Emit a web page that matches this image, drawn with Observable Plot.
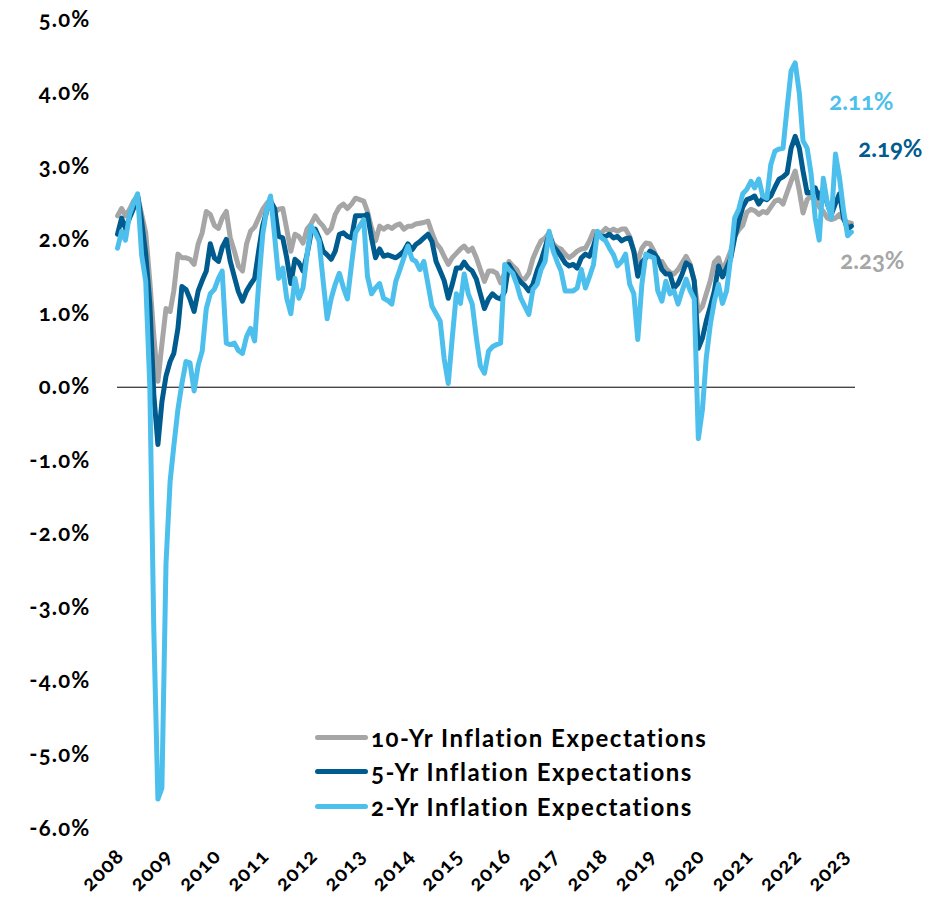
<!DOCTYPE html>
<html>
<head>
<meta charset="utf-8">
<script src="https://cdn.jsdelivr.net/npm/d3@7"></script>
<script src="https://cdn.jsdelivr.net/npm/@observablehq/plot@0.6"></script>
<style>
  body { margin: 0; background: #fff; }
  #wrap { position: relative; width: 949px; height: 908px; font-family: Lato, "Open Sans", sans-serif; font-variant-numeric: oldstyle-nums; }
  #wrap svg { position: absolute; left: 0; top: 0; }
  #wrap svg text { font-variant-numeric: oldstyle-nums; }
  #wrap svg g[aria-label="y-axis tick label"] text { letter-spacing: 1.2px; }
  #wrap svg g[aria-label="x-axis tick label"] text { letter-spacing: 1px; }
  .legend { position: absolute; left: 315px; top: 720px; }
  .row { display: flex; align-items: center; height: 34.5px; font-weight: 700; font-size: 24px; letter-spacing: 1.5px; color: #000; white-space: nowrap; }
  .sw { width: 53px; height: 5px; border-radius: 3px; margin-right: 3px; }
</style>
</head>
<body>
<div id="wrap"></div>
<script>
// Monthly series, first value = January 2008
const startYear = 2008;

const tenYr = [
  2.33, 2.43, 2.33, 2.42, 2.53, 2.6, 2.35, 2.1, 1.44, 0.7, 0.08, 0.58,
  1.07, 1.03, 1.31, 1.81, 1.76, 1.76, 1.74, 1.67, 1.95, 2.1, 2.39, 2.35,
  2.2, 2.16, 2.3, 2.39, 2.03, 1.85, 1.65, 1.58, 1.95, 2.12, 2.18, 2.3,
  2.42, 2.5, 2.55, 2.37, 2.42, 2.43, 2.15, 1.85, 2.08, 2.05, 1.96, 2.15,
  2.22, 2.33, 2.25, 2.19, 2.1, 2.16, 2.35, 2.45, 2.49, 2.43, 2.49, 2.57,
  2.55, 2.53, 2.39, 2.16, 1.99, 2.19, 2.15, 2.19, 2.16, 2.2, 2.22, 2.15,
  2.19, 2.19, 2.22, 2.23, 2.24, 2.26, 2.1, 1.96, 1.89, 1.78, 1.67, 1.76,
  1.82, 1.88, 1.92, 1.85, 1.89, 1.76, 1.6, 1.44, 1.58, 1.58, 1.55, 1.42,
  1.55, 1.71, 1.65, 1.6, 1.48, 1.47, 1.55, 1.75, 1.88, 1.99, 2.03, 2.1,
  1.95, 1.9, 1.88, 1.81, 1.76, 1.8, 1.85, 1.88, 1.89, 1.99, 2.12, 2.1,
  2.1, 2.16, 2.12, 2.15, 2.12, 2.15, 2.15, 2.05, 1.85, 1.71, 1.89, 1.96,
  1.95, 1.85, 1.71, 1.71, 1.62, 1.56, 1.54, 1.6, 1.69, 1.78, 1.67, 1.44,
  1.03, 1.1, 1.27, 1.45, 1.7, 1.76, 1.58, 1.71, 1.85, 2.05, 2.14, 2.2,
  2.38, 2.42, 2.4, 2.35, 2.39, 2.37, 2.45, 2.53, 2.55, 2.49, 2.65, 2.8,
  2.94, 2.67, 2.37, 2.55, 2.6, 2.55, 2.45, 2.39, 2.3, 2.28, 2.3, 2.35,
  2.28, 2.24, 2.23
];

const fiveYr = [
  2.08, 2.3, 2.16, 2.3, 2.43, 2.6, 2.26, 1.81, 1.13, -0.1, -0.78, -0.2,
  0.15, 0.35, 0.46, 0.8, 1.37, 1.33, 1.2, 1.03, 1.31, 1.45, 1.58, 1.95,
  1.76, 1.71, 1.9, 2.01, 1.71, 1.5, 1.3, 1.17, 1.31, 1.4, 1.48, 1.85,
  2.2, 2.4, 2.53, 2.43, 2.05, 2.03, 1.76, 1.41, 1.74, 1.69, 1.58, 1.8,
  2.1, 2.15, 2.03, 1.85, 1.8, 1.74, 1.85, 2.08, 2.1, 2.05, 2.03, 2.33,
  2.33, 2.33, 2.35, 2.03, 1.76, 1.88, 1.78, 1.8, 1.78, 1.76, 1.8, 1.85,
  1.95, 1.87, 1.94, 1.98, 2.03, 2.08, 1.98, 1.71, 1.58, 1.45, 1.21, 1.4,
  1.62, 1.62, 1.7, 1.62, 1.58, 1.47, 1.27, 1.07, 1.2, 1.27, 1.22, 1.2,
  1.3, 1.67, 1.58, 1.5, 1.43, 1.38, 1.31, 1.4, 1.58, 1.72, 1.9, 2.08,
  1.92, 1.85, 1.78, 1.69, 1.65, 1.67, 1.62, 1.76, 1.81, 1.78, 1.92, 2.1,
  2.05, 2.05, 2.08, 2.03, 2.05, 1.99, 2.02, 2.03, 1.85, 1.51, 1.7, 1.76,
  1.85, 1.82, 1.75, 1.6, 1.54, 1.54, 1.35, 1.41, 1.54, 1.69, 1.65, 1.45,
  0.53, 0.67, 0.9, 1.1, 1.31, 1.65, 1.5, 1.62, 1.75, 2.03, 2.25, 2.45,
  2.55, 2.57, 2.6, 2.49, 2.57, 2.55, 2.6, 2.72, 2.83, 2.86, 2.91, 3.25,
  3.41, 3.25, 2.94, 2.64, 2.65, 2.71, 2.57, 2.71, 2.49, 2.35, 2.5, 2.63,
  2.3, 2.15, 2.19
];

const twoYr = [
  1.89, 2.12, 2.0, 2.35, 2.5, 2.63, 1.8, 1.44, 0.0, -3.3, -5.6, -5.45,
  -2.4, -1.28, -0.8, -0.3, 0.05, 0.35, 0.33, -0.05, 0.3, 0.49, 1.07, 1.27,
  1.33, 1.48, 1.58, 0.6, 0.58, 0.6, 0.5, 0.46, 0.69, 0.8, 0.63, 1.4,
  2.08, 2.43, 2.6, 2.05, 1.48, 1.62, 1.21, 1.0, 1.48, 1.21, 1.35, 1.8,
  2.19, 2.1, 1.99, 1.44, 0.93, 1.21, 1.4, 1.55, 1.35, 1.2, 1.67, 2.1,
  2.19, 2.28, 1.51, 1.27, 1.35, 1.41, 1.21, 1.18, 1.13, 1.44, 1.6, 1.76,
  1.92, 1.74, 1.71, 1.6, 1.71, 1.4, 1.1, 1.0, 0.9, 0.39, 0.05, 0.67,
  1.27, 1.14, 1.54, 1.27, 1.13, 0.67, 0.29, 0.19, 0.49, 0.55, 0.58, 0.6,
  1.67, 1.6, 1.55, 1.4, 1.21, 1.1, 0.99, 1.33, 1.4, 1.6, 1.71, 2.12,
  1.85, 1.7, 1.58, 1.31, 1.31, 1.31, 1.35, 1.6, 1.35, 1.5, 1.67, 2.12,
  2.03, 1.99, 1.89, 1.8, 1.65, 1.71, 1.81, 1.4, 1.27, 0.65, 1.4, 1.81,
  1.78, 1.76, 1.31, 1.17, 1.44, 1.27, 1.31, 1.13, 1.31, 1.47, 1.31, 1.2,
  -0.7, -0.3, 0.4, 0.86, 1.17, 1.4, 1.14, 1.31, 1.76, 2.3, 2.42, 2.63,
  2.69, 2.8, 2.71, 2.83, 2.6, 2.57, 3.03, 3.21, 3.24, 3.25, 3.8, 4.3,
  4.41, 4.0, 3.35, 3.25, 2.9, 2.3, 2.0, 2.84, 2.5, 2.3, 3.17, 2.85,
  2.4, 2.06, 2.11
];

const seriesNames = ["10-Yr Inflation Expectations", "5-Yr Inflation Expectations", "2-Yr Inflation Expectations"];
const seriesColors = ["#a6a6a6", "#005b8e", "#4dbfec"];
const endLabels = ["2.23%", "2.19%", "2.11%"];
const yearLabels = d3.range(2008, 2024);
const yTickValues = d3.range(-6, 6, 1);

const monthDate = i => new Date(Date.UTC(startYear, i, 1));
const toRows = (arr, name) => arr.map((v, i) => ({ date: monthDate(i), value: v, series: name }));
const allSeries = [tenYr, fiveYr, twoYr];
const rows = allSeries.map((arr, k) => toRows(arr, seriesNames[k]));
const lastRows = rows.map((r, k) => ({ ...r[r.length - 1], label: endLabels[k], color: seriesColors[k] }));

const labelOffsets = [ { dx: 21, dy: 38 }, { dx: 39, dy: -77 }, { dx: 10, dy: -130 } ];

const chart = Plot.plot({
  width: 949,
  height: 908,
  marginLeft: 117,
  marginRight: 94,
  marginTop: 19,
  marginBottom: 80,
  style: { background: "#fff", fontFamily: "Lato, 'Open Sans', sans-serif", color: "#000" },
  x: { type: "utc", domain: [Date.UTC(2008, 0, 1), Date.UTC(2023, 3, 1)] },
  y: { domain: [-6, 5] },
  marks: [
    Plot.axisY({
      ticks: yTickValues,
      tickFormat: d => d.toFixed(1) + "%",
      tickSize: 0,
      tickPadding: 27,
      fontSize: 22,
      fontWeight: 700,
      fill: "#000",
      label: null
    }),
    Plot.axisX({
      ticks: yearLabels.map(y => new Date(Date.UTC(y, 0, 1))),
      tickFormat: d3.utcFormat("%Y"),
      tickRotate: -45,
      tickSize: 0,
      tickPadding: 24,
      dx: 3,
      fontSize: 21,
      fontWeight: 700,
      fill: "#000",
      label: null
    }),
    Plot.ruleY([0], { stroke: "#000", strokeWidth: 1 }),
    ...rows.map((r, k) => Plot.lineY(r, {
      x: "date", y: "value",
      stroke: seriesColors[k], strokeWidth: 5,
      strokeLinejoin: "round", strokeLinecap: "round"
    })),
    ...lastRows.map((d, k) => Plot.text([d], {
      x: "date", y: "value", text: "label",
      fill: d.color, fontSize: 24, fontWeight: 700,
      dx: labelOffsets[k].dx, dy: labelOffsets[k].dy,
      textAnchor: "middle"
    }))
  ]
});

const wrap = document.getElementById("wrap");
wrap.appendChild(chart);

const legend = document.createElement("div");
legend.className = "legend";
seriesNames.forEach((name, k) => {
  const row = document.createElement("div");
  row.className = "row";
  const sw = document.createElement("div");
  sw.className = "sw";
  sw.style.background = seriesColors[k];
  const txt = document.createElement("span");
  txt.textContent = name;
  row.appendChild(sw);
  row.appendChild(txt);
  legend.appendChild(row);
});
wrap.appendChild(legend);
</script>
</body>
</html>
